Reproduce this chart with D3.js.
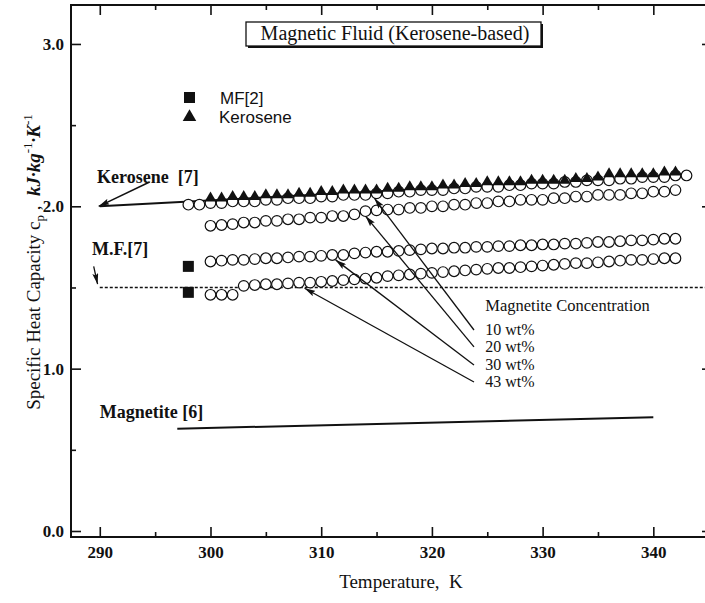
<!DOCTYPE html>
<html>
<head>
<meta charset="utf-8">
<script src="https://d3js.org/d3.v7.min.js"></script>
<style>
  body { margin: 0; background: #fff; }
  svg text { font-family: "Liberation Serif", "Times New Roman", serif; fill: #111; }
  .legend text { font-family: "Liberation Sans", Arial, sans-serif; }
</style>
</head>
<body>
<div id="chart"></div>
<script>
// ---- data ----
var xTicks = [290, 300, 310, 320, 330, 340];
var xMinor = [295, 305, 315, 325, 335, 345];
var yTicks = [0.0, 1.0, 2.0, 3.0];
var yMinor = [0.5, 1.5, 2.5];

var temps10 = [298,299,300,301,302,303,304,305,306,307,308,309,310,311,312,313,314,315,316,317,318,319,320,321,322,323,324,325,326,327,328,329,330,331,332,333,334,335,336,337,338,339,340,341,342,343];
var cp10 = [2.01,2.01,2.02,2.02,2.03,2.03,2.03,2.04,2.04,2.05,2.05,2.05,2.06,2.06,2.07,2.07,2.07,2.08,2.08,2.09,2.09,2.10,2.10,2.10,2.11,2.11,2.12,2.12,2.12,2.13,2.13,2.14,2.14,2.14,2.15,2.15,2.16,2.16,2.16,2.17,2.17,2.18,2.18,2.18,2.19,2.19];

var temps = [300,301,302,303,304,305,306,307,308,309,310,311,312,313,314,315,316,317,318,319,320,321,322,323,324,325,326,327,328,329,330,331,332,333,334,335,336,337,338,339,340,341,342];
var cp20 = [1.88,1.885,1.89,1.90,1.90,1.91,1.91,1.92,1.92,1.93,1.93,1.94,1.94,1.95,1.97,1.975,1.98,1.98,1.99,1.99,2.00,2.00,2.01,2.01,2.02,2.02,2.03,2.03,2.04,2.04,2.04,2.05,2.05,2.06,2.06,2.07,2.07,2.07,2.08,2.08,2.09,2.09,2.10];
var cp30 = [1.66,1.665,1.67,1.67,1.675,1.68,1.68,1.685,1.69,1.69,1.695,1.70,1.70,1.71,1.715,1.72,1.72,1.725,1.73,1.735,1.74,1.74,1.745,1.745,1.75,1.75,1.755,1.755,1.76,1.76,1.765,1.765,1.77,1.77,1.775,1.78,1.78,1.785,1.79,1.79,1.795,1.80,1.80];
var cp43 = [1.455,1.455,1.455,1.51,1.515,1.52,1.52,1.525,1.53,1.53,1.535,1.54,1.545,1.55,1.555,1.56,1.57,1.575,1.58,1.585,1.59,1.595,1.60,1.605,1.61,1.615,1.62,1.62,1.625,1.63,1.635,1.64,1.645,1.65,1.65,1.655,1.66,1.665,1.67,1.67,1.675,1.68,1.68];
var cpKerosene = [2.05,2.05,2.06,2.06,2.06,2.07,2.07,2.07,2.08,2.08,2.09,2.09,2.10,2.10,2.10,2.10,2.11,2.11,2.12,2.12,2.12,2.13,2.13,2.14,2.14,2.15,2.15,2.15,2.15,2.16,2.16,2.16,2.16,2.17,2.17,2.18,2.20,2.20,2.20,2.20,2.20,2.21,2.21];

var mf2Temps = [298, 298];
var mf2Cp = [1.63, 1.47];

var keroseneRef = [[290, 2.0], [342, 2.19]];   // Kerosene [7]
var mfRef = [[290, 1.5], [345, 1.5]];          // M.F.[7]
var magnetiteRef = [[297, 0.63], [340, 0.70]]; // Magnetite [6]

var concLabels = ["10 wt%", "20 wt%", "30 wt%", "43 wt%"];

// ---- layout ----
var width = 705, height = 603;
var plotL = 71, plotR = 712, plotT = 5, plotB = 537;

var svg = d3.select("#chart").append("svg")
    .attr("width", width)
    .attr("height", height);

var x = d3.scaleLinear().domain([287.4, 345.3]).range([plotL, plotR]);
var y = d3.scaleLinear().domain([-0.037, 3.24]).range([plotB, plotT]);

var defs = svg.append("defs");
defs.append("marker")
    .attr("id", "head")
    .attr("markerUnits", "userSpaceOnUse")
    .attr("markerWidth", 11).attr("markerHeight", 6)
    .attr("refX", 11).attr("refY", 3)
    .attr("orient", "auto")
  .append("path")
    .attr("d", "M0,0 L11,3 L0,6 L2,3 z")
    .attr("fill", "#111");

// axes, ticks point inward
function styleAxis(g) {
  g.select(".domain").remove();
  g.selectAll(".tick line").attr("stroke", "#111").attr("stroke-width", 1.6);
  g.selectAll(".tick text").attr("font-size", 17).attr("fill", "#111")
    .attr("font-weight", "bold")
    .attr("font-family", "Liberation Serif");
}

svg.append("g").attr("transform", "translate(0," + plotB + ")")
    .call(d3.axisBottom(x).tickValues(xTicks).tickSize(-10).tickPadding(9).tickFormat(d3.format("d")))
    .call(styleAxis);
svg.append("g").attr("transform", "translate(0," + plotB + ")")
    .call(d3.axisBottom(x).tickValues(xMinor).tickSize(-5).tickFormat(""))
    .call(styleAxis);
svg.append("g").attr("transform", "translate(0," + plotT + ")")
    .call(d3.axisTop(x).tickValues(xTicks).tickSize(-10).tickFormat(""))
    .call(styleAxis);
svg.append("g").attr("transform", "translate(0," + plotT + ")")
    .call(d3.axisTop(x).tickValues(xMinor).tickSize(-5).tickFormat(""))
    .call(styleAxis);
svg.append("g").attr("transform", "translate(" + plotL + ",0)")
    .call(d3.axisLeft(y).tickValues(yTicks).tickSize(-10).tickPadding(7).tickFormat(d3.format(".1f")))
    .call(styleAxis);
svg.append("g").attr("transform", "translate(" + plotL + ",0)")
    .call(d3.axisLeft(y).tickValues(yMinor).tickSize(-5).tickFormat(""))
    .call(styleAxis);
svg.append("g").attr("transform", "translate(" + plotR + ",0)")
    .call(d3.axisRight(y).tickValues(yTicks).tickSize(-10).tickFormat(""))
    .call(styleAxis);

svg.append("rect")
    .attr("x", plotL).attr("y", plotT)
    .attr("width", plotR - plotL).attr("height", plotB - plotT)
    .attr("fill", "none").attr("stroke", "#111").attr("stroke-width", 2);

// axis titles
svg.append("text")
    .attr("x", 401).attr("y", 588)
    .attr("text-anchor", "middle")
    .attr("font-size", 19)
    .attr("xml:space", "preserve")
    .text("Temperature,  K");

var yt = svg.append("text")
    .attr("transform", "translate(40,262) rotate(-90)")
    .attr("text-anchor", "middle")
    .attr("font-size", 19);
yt.append("tspan").text("Specific Heat Capacity c");
yt.append("tspan").attr("font-size", 13).attr("dy", 4).text("p");
yt.append("tspan").attr("dy", -4).attr("xml:space", "preserve").text(" ,  ");
yt.append("tspan").attr("font-weight", "bold").attr("font-style", "italic").text("kJ\u00b7kg");
yt.append("tspan").attr("font-size", 13).attr("dy", -8).text("-1");
yt.append("tspan").attr("dy", 8).attr("font-weight", "bold").attr("font-style", "italic").text("\u00b7K");
yt.append("tspan").attr("font-size", 13).attr("dy", -8).text("-1");

// title box
svg.append("rect").attr("x", 248).attr("y", 24).attr("width", 295).attr("height", 24).attr("fill", "#111");
svg.append("rect").attr("x", 246).attr("y", 22).attr("width", 295).attr("height", 24)
    .attr("fill", "#fff").attr("stroke", "#111").attr("stroke-width", 1.3);
svg.append("text").attr("x", 395).attr("y", 40).attr("text-anchor", "middle")
    .attr("font-size", 20).text("Magnetic Fluid (Kerosene-based)");

// legend
var lg = svg.append("g").attr("class", "legend");
lg.append("rect").attr("x", 184).attr("y", 92).attr("width", 11).attr("height", 11).attr("fill", "#111");
lg.append("text").attr("x", 220).attr("y", 104).attr("font-size", 17).text("MF[2]");
lg.append("path").attr("transform", "translate(189.5,117)")
    .attr("d", d3.symbol(d3.symbolTriangle, 80)()).attr("fill", "#111");
lg.append("text").attr("x", 219).attr("y", 123).attr("font-size", 17).text("Kerosene");

// reference lines
var line = d3.line().x(function(d) { return x(d[0]); }).y(function(d) { return y(d[1]); });
svg.append("path").datum(keroseneRef).attr("d", line)
    .attr("stroke", "#111").attr("stroke-width", 2).attr("fill", "none");
svg.append("path").datum(mfRef).attr("d", line)
    .attr("stroke", "#111").attr("stroke-width", 1.3).attr("stroke-dasharray", "3,2").attr("fill", "none");
svg.append("path").datum(magnetiteRef).attr("d", line)
    .attr("stroke", "#111").attr("stroke-width", 2).attr("fill", "none");

// open-circle series
var circleSeries = [
  { t: temps10, v: cp10 },
  { t: temps, v: cp20 },
  { t: temps, v: cp30 },
  { t: temps, v: cp43 }
];
circleSeries.forEach(function(s) {
  svg.append("g").selectAll("circle")
    .data(s.v)
    .enter().append("circle")
      .attr("cx", function(d, i) { return x(s.t[i]); })
      .attr("cy", function(d) { return y(d); })
      .attr("r", 5.3)
      .attr("fill", "#fff")
      .attr("stroke", "#111")
      .attr("stroke-width", 1.2);
});

// kerosene triangles
svg.append("g").selectAll("path")
    .data(cpKerosene)
  .enter().append("path")
    .attr("transform", function(d, i) { return "translate(" + x(temps[i]) + "," + y(d) + ")"; })
    .attr("d", d3.symbol(d3.symbolTriangle, 58)())
    .attr("fill", "#111");

// MF[2] squares
svg.append("g").selectAll("rect")
    .data(mf2Cp)
  .enter().append("rect")
    .attr("x", function(d, i) { return x(mf2Temps[i]) - 5.5; })
    .attr("y", function(d) { return y(d) - 5.5; })
    .attr("width", 11).attr("height", 11)
    .attr("fill", "#111");

// annotations
function arrow(from, to, w) {
  svg.append("line")
    .attr("x1", x(from[0])).attr("y1", y(from[1]))
    .attr("x2", x(to[0])).attr("y2", y(to[1]))
    .attr("stroke", "#111").attr("stroke-width", w || 1.3)
    .attr("marker-end", "url(#head)");
}
function label(pos, str, size, weight) {
  svg.append("text").attr("x", x(pos[0])).attr("y", y(pos[1]))
    .attr("font-size", size).attr("font-weight", weight || "normal")
    .attr("xml:space", "preserve").text(str);
}

label([289.75, 2.144], "Kerosene  [7]", 18, "bold");
arrow([294.5, 2.15], [289.9, 2.0], 1.5);
label([289.3, 1.70], "M.F.[7]", 18, "bold");
arrow([289.45, 1.63], [289.8, 1.52], 1.3);
label([290.0, 0.696], "Magnetite [6]", 18, "bold");

label([324.82, 1.355], "Magnetite Concentration", 16.5);
var concY = [1.208, 1.103, 0.992, 0.887];
concLabels.forEach(function(s, i) { label([324.82, concY[i]], s, 16); });

arrow([323.8, 1.238], [314.8, 2.05]);
arrow([323.8, 1.134], [314.0, 1.94]);
arrow([323.8, 1.023], [311.3, 1.67]);
arrow([323.8, 0.918], [308.5, 1.495]);
</script>
</body>
</html>
